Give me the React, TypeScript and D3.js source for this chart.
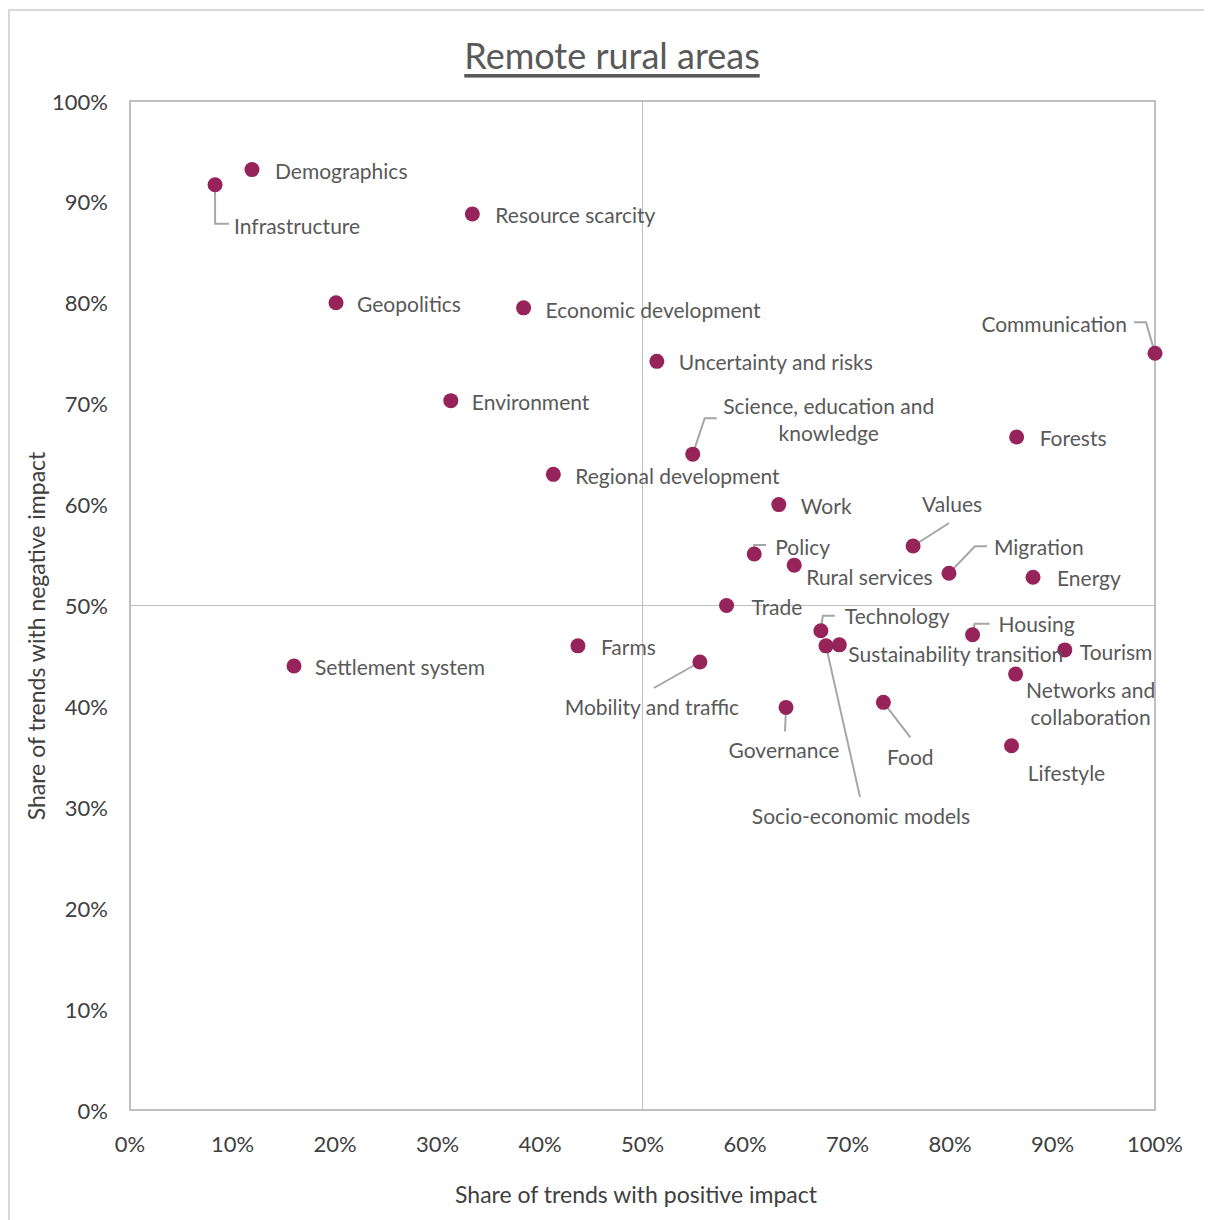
import React from "react";
import * as d3 from "d3";

// Trend topics and their shares of positive / negative impact (percent)
const topics = [
  "Infrastructure", "Demographics", "Resource scarcity", "Geopolitics", "Economic development",
  "Uncertainty and risks", "Environment", "Science, education and knowledge", "Regional development",
  "Work", "Policy", "Rural services", "Values", "Migration", "Energy", "Communication", "Forests",
  "Trade", "Technology", "Socio-economic models", "Sustainability transition", "Housing", "Tourism",
  "Networks and collaboration", "Lifestyle", "Food", "Governance", "Mobility and traffic", "Farms",
  "Settlement system",
];
const positiveShare = [
  8.3, 11.9, 33.4, 20.1, 38.4,
  51.4, 31.3, 54.9, 41.3,
  63.3, 60.9, 64.8, 76.4, 79.9, 88.1, 100, 86.5,
  58.2, 67.4, 67.9, 69.2, 82.2, 91.2,
  86.4, 86.0, 73.5, 64.0, 55.6, 43.7,
  16.0,
];
const negativeShare = [
  91.7, 93.2, 88.8, 80.0, 79.5,
  74.2, 70.3, 65.0, 63.0,
  60.0, 55.1, 54.0, 55.9, 53.2, 52.8, 75.0, 66.7,
  50.0, 47.5, 46.0, 46.1, 47.1, 45.6,
  43.2, 36.1, 40.4, 39.9, 44.4, 46.0,
  44.0,
];
const tickValues = [0, 10, 20, 30, 40, 50, 60, 70, 80, 90, 100];

// Label placement relative to each dot (pixels); leader = polyline from the dot
type LabelSpec = { dx: number; dy: number; anchor?: "start" | "middle" | "end"; lines?: string[]; leader?: [number, number][] };
const labelLayout: Record<string, LabelSpec> = {
  "Infrastructure": { dx: 19, dy: 40, leader: [[0, 0], [0, 39], [14, 39]] },
  "Demographics": { dx: 23, dy: 0 },
  "Resource scarcity": { dx: 23, dy: 0 },
  "Geopolitics": { dx: 21, dy: 0 },
  "Economic development": { dx: 22, dy: 1 },
  "Uncertainty and risks": { dx: 22, dy: 0 },
  "Environment": { dx: 21, dy: 0 },
  "Science, education and knowledge": { dx: 136, dy: -49, anchor: "middle", lines: ["Science, education and", "knowledge"], leader: [[0, 0], [12, -36], [24, -36]] },
  "Regional development": { dx: 22, dy: 1 },
  "Work": { dx: 22, dy: 0 },
  "Policy": { dx: 21, dy: -8, leader: [[0, 0], [0, -9], [12, -9]] },
  "Rural services": { dx: 12, dy: 11 },
  "Values": { dx: 39, dy: -43, anchor: "middle", leader: [[0, 0], [36, -23]] },
  "Migration": { dx: 45, dy: -27, leader: [[0, 0], [26, -27], [38, -27]] },
  "Energy": { dx: 24, dy: 0 },
  "Communication": { dx: -28, dy: -30, anchor: "end", leader: [[0, 0], [-9, -31], [-21, -31]] },
  "Forests": { dx: 23, dy: 0 },
  "Trade": { dx: 25, dy: 0 },
  "Technology": { dx: 24, dy: -16, leader: [[0, 0], [2, -15], [14, -15]] },
  "Socio-economic models": { dx: 35, dy: 169, anchor: "middle", leader: [[0, 0], [34, 151]] },
  "Sustainability transition": { dx: 9, dy: 8 },
  "Housing": { dx: 26, dy: -12, leader: [[0, 0], [2, -11], [17, -11]] },
  "Tourism": { dx: 15, dy: 1 },
  "Networks and collaboration": { dx: 75, dy: 15, anchor: "middle", lines: ["Networks and", "collaboration"] },
  "Lifestyle": { dx: 55, dy: 26, anchor: "middle" },
  "Food": { dx: 27, dy: 54, anchor: "middle", leader: [[0, 0], [27, 35]] },
  "Governance": { dx: -2, dy: 42, anchor: "middle", leader: [[0, 0], [-1, 24]] },
  "Mobility and traffic": { dx: -48, dy: 44, anchor: "middle", leader: [[0, 0], [-46, 26]] },
  "Farms": { dx: 23, dy: 0 },
  "Settlement system": { dx: 21, dy: 0 },
};

const W = 1204;
const H = 1212;
const margin = { left: 122, top: 93, right: 57, bottom: 110 };
const FONT = "Lato, 'Open Sans', sans-serif";
const DOT = "#962359";
const LABEL = "#595959";
const LEADER = "#a6a6a6";
const LINE_H = 27;

export default function App() {
  const x = d3.scaleLinear().domain([0, 100]).range([margin.left, W - margin.right]);
  const y = d3.scaleLinear().domain([0, 100]).range([H - margin.bottom, margin.top]);
  const pct = (v: number) => `${v}%`;
  const line = d3.line();

  return (
    <svg width={W} height={H} style={{ display: "block", fontFamily: FONT }}>
      <rect x={1} y={2} width={W + 10} height={H + 10} fill="#fff" stroke="#d9d9d9" strokeWidth={2} />

      <text x={604} y={47} textAnchor="middle" dominantBaseline="central" fontSize={36} fill={LABEL}
        textDecoration="underline">Remote rural areas</text>

      {/* plot frame and quadrant lines */}
      <rect x={x(0)} y={y(100)} width={x(100) - x(0)} height={y(0) - y(100)} fill="none" stroke="#bfbfbf" strokeWidth={2} />
      <line x1={x(50)} x2={x(50)} y1={y(0)} y2={y(100)} stroke="#bfbfbf" strokeWidth={1} />
      <line x1={x(0)} x2={x(100)} y1={y(50)} y2={y(50)} stroke="#bfbfbf" strokeWidth={1} />

      {tickValues.map((t) => (
        <text key={`y${t}`} x={x(0) - 22} y={y(t)} textAnchor="end" dominantBaseline="central" fontSize={22} fill="#404040">{pct(t)}</text>
      ))}
      {tickValues.map((t) => (
        <text key={`x${t}`} x={x(t)} y={y(0) + 33} textAnchor="middle" dominantBaseline="central" fontSize={22} fill="#404040">{pct(t)}</text>
      ))}

      <text x={628} y={1186} textAnchor="middle" dominantBaseline="central" fontSize={23} fill="#404040">Share of trends with positive impact</text>
      <text transform={`translate(28,${628}) rotate(-90)`} textAnchor="middle" dominantBaseline="central" fontSize={23} fill="#404040">Share of trends with negative impact</text>

      {/* leader lines */}
      {topics.map((name, i) => {
        const spec = labelLayout[name];
        if (!spec || !spec.leader) return null;
        const px = x(positiveShare[i]);
        const py = y(negativeShare[i]);
        const pts = spec.leader.map(([a, b]) => [px + a, py + b] as [number, number]);
        return <path key={`l${name}`} d={line(pts) ?? ""} fill="none" stroke={LEADER} strokeWidth={2} />;
      })}

      {/* dots */}
      {topics.map((name, i) => (
        <circle key={`c${name}`} cx={x(positiveShare[i])} cy={y(negativeShare[i])} r={7.5} fill={DOT} />
      ))}

      {/* labels */}
      {topics.map((name, i) => {
        const spec = labelLayout[name] ?? { dx: 20, dy: 0 };
        const px = x(positiveShare[i]) + spec.dx;
        const py = y(negativeShare[i]) + spec.dy;
        const lines = spec.lines ?? [name];
        return (
          <text key={`t${name}`} x={px} y={py} textAnchor={spec.anchor ?? "start"} dominantBaseline="central" fontSize={21} fill={LABEL}>
            {lines.map((ln, k) => (
              <tspan key={k} x={px} y={py + k * LINE_H}>{ln}</tspan>
            ))}
          </text>
        );
      })}
    </svg>
  );
}
